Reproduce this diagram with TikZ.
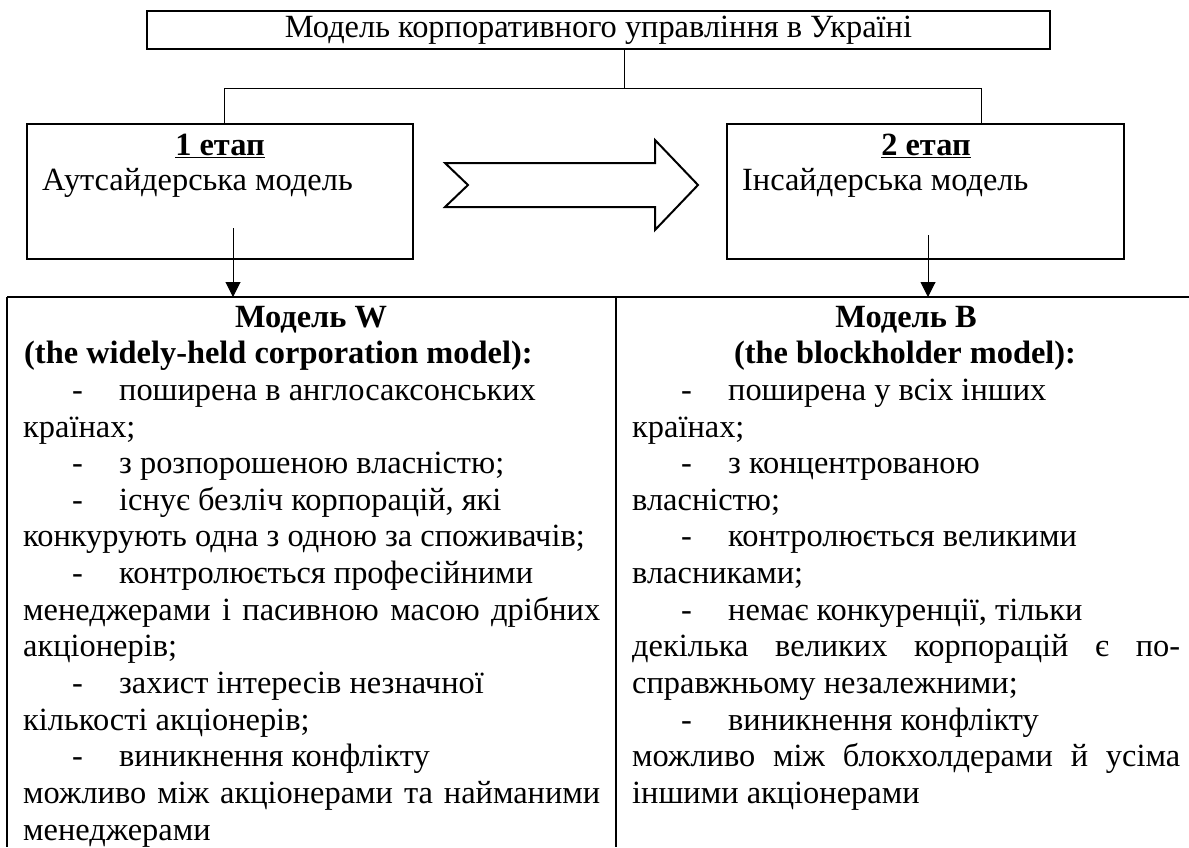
\documentclass[tikz,border=0pt]{standalone}
\usepackage{fontspec}
\setmainfont{Liberation Serif}
\usetikzlibrary{arrows.meta}
\newcommand{\bodyfont}{\fontsize{32.4}{36.65}\selectfont}
\tikzset{
  box/.style={draw, line width=2pt, inner sep=0pt},
  thin/.style={line width=1pt},
  arr/.style={line width=1pt, -{Triangle[length=15pt,width=15pt]}},
  ln/.style={anchor=base west, inner sep=0pt, font=\bodyfont},
  lnc/.style={anchor=base, inner sep=0pt, font=\bodyfont\bfseries},
  tline/.style={line width=2pt},
}
\newcommand{\dsh}{\hspace*{49pt}\makebox[47pt][l]{-}}
\newcommand{\jl}[1]{\hbox to 577pt{#1}}
\newcommand{\jr}[1]{\hbox to 548pt{#1}}
\begin{document}
\begin{tikzpicture}[x=1pt,y=-1pt]
\useasboundingbox (0,0) rectangle (1189,847);
% top box
\node[box, minimum width=903pt, minimum height=38pt, font=\bodyfont] (top) at (598.5,30) {Модель корпоративного управління в Україні};
% stage boxes
\node[box, minimum width=386pt, minimum height=135pt] (b1) at (220,191.5) {};
\node[box, minimum width=397pt, minimum height=135pt] (b2) at (925,191.5) {};
\node[lnc] (s1) at (220,155) {\underline{1 етап}};
\node[ln] (t1) at (42,190) {Аутсайдерська модель};
\node[lnc] (s2) at (926,155) {\underline{2 етап}};
\node[ln] (t2) at (742,190) {Інсайдерська модель};
% connectors
\coordinate (c1) at (624,88);
\coordinate (hl) at (224,88);
\coordinate (hr) at (981,88);
\draw[thin] (top.south -| c1) -- (c1);
\draw[thin] (b1.north -| hl) -- (hl) -- (hr) -- (b2.north -| hr);
% big arrow
\draw[line width=2pt, line join=miter] (445,163) -- (655,163) -- (655,140) -- (698,185) -- (655,230) -- (655,207) -- (445,207) -- (468,185) -- cycle;
% table
\coordinate (tl) at (7,297);
\coordinate (tr) at (1189,297);
\coordinate (tm) at (616,297);
\draw[tline] (tl) -- (tr);
\draw[tline] (tl) -- (7,847);
\draw[tline] (tm) -- (616,847);
% arrows down
\coordinate (a1) at (233,228);
\coordinate (a2) at (928,235);
\draw[arr] (a1) -- (a1 |- tl);
\draw[arr] (a2) -- (a2 |- tl);
% left column
\node[lnc] (lw1) at (311,327) {Модель W};
\node[ln, font=\bodyfont\bfseries] (lw2) at (24,363.65) {(the widely-held corporation model):};
\node[ln] (l3) at (23,400.3) {\dsh поширена в англосаксонських};
\node[ln] (l4) at (23,437) {країнах;};
\node[ln] (l5) at (23,473.6) {\dsh з розпорошеною власністю;};
\node[ln] (l6) at (23,510.3) {\dsh існує безліч корпорацій, які};
\node[ln] (l7) at (23,546.9) {конкурують одна з одною за споживачів;};
\node[ln] (l8) at (23,583.6) {\dsh контролюється професійними};
\node[ln] (l9) at (23,620.2) {\jl{менеджерами\hfill і\hfill пасивною\hfill масою\hfill дрібних}};
\node[ln] (l10) at (23,656.9) {акціонерів;};
\node[ln] (l11) at (23,693.5) {\dsh захист інтересів незначної};
\node[ln] (l12) at (23,730.2) {кількості акціонерів;};
\node[ln] (l13) at (23,766.8) {\dsh виникнення конфлікту};
\node[ln] (l14) at (23,803.5) {\jl{можливо\hfill між\hfill акціонерами\hfill та\hfill найманими}};
\node[ln] (l15) at (23,840.1) {менеджерами};
% right column
\node[lnc] (rw1) at (906,327) {Модель B};
\node[lnc] (rw2) at (905,363.65) {(the blockholder model):};
\node[ln] (r3) at (632,400.3) {\dsh поширена у всіх інших};
\node[ln] (r4) at (632,437) {країнах;};
\node[ln] (r5) at (632,473.6) {\dsh з концентрованою};
\node[ln] (r6) at (632,510.3) {власністю;};
\node[ln] (r7) at (632,546.9) {\dsh контролюється великими};
\node[ln] (r8) at (632,583.6) {власниками;};
\node[ln] (r9) at (632,620.2) {\dsh немає конкуренції, тільки};
\node[ln] (r10) at (632,656.9) {\jr{декілька\hfill великих\hfill корпорацій\hfill є\hfill по-}};
\node[ln] (r11) at (632,693.5) {справжньому незалежними;};
\node[ln] (r12) at (632,730.2) {\dsh виникнення конфлікту};
\node[ln] (r13) at (632,766.8) {\jr{можливо\hfill між\hfill блокхолдерами\hfill й\hfill усіма}};
\node[ln] (r14) at (632,803.5) {іншими акціонерами};
\end{tikzpicture}
\end{document}
